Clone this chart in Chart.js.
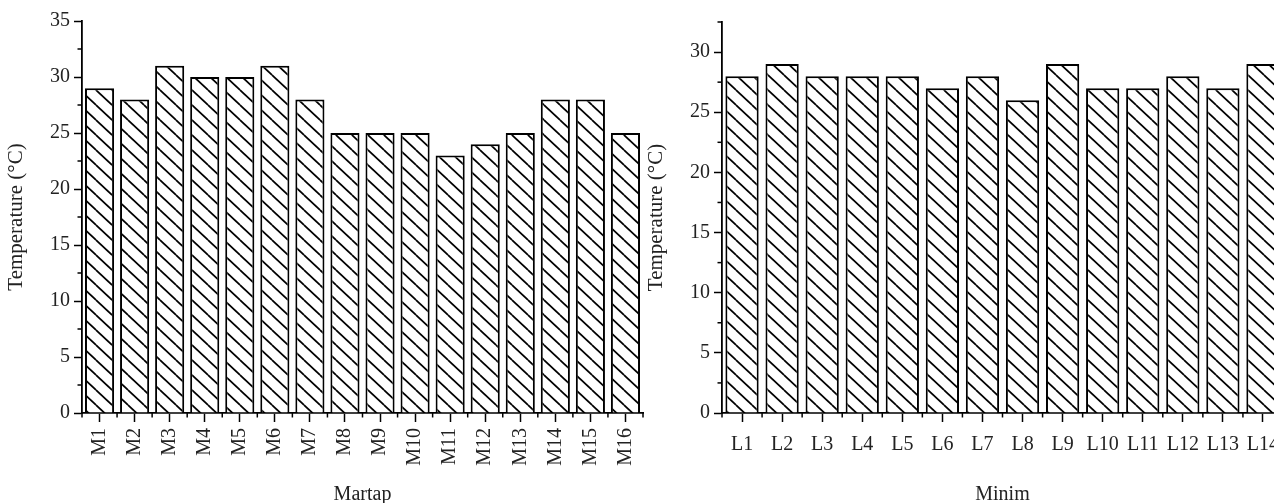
<!DOCTYPE html>
<html lang="en">
<head>
    <meta charset="UTF-8">
    <title>Temperature - Martap and Minim</title>
    <script src="https://cdn.jsdelivr.net/npm/chart.js"></script>
    <style>
        body { margin: 0; background: #fff; }
        #wrap { position: relative; width: 1274px; height: 503px; overflow: hidden; background: #fff; }
        .panel { position: absolute; top: 0; width: 650px; height: 503px; }
    </style>
</head>
<body>
    <div id="wrap">
        <div class="panel" style="left:0"><canvas id="martapChart" width="650" height="503"></canvas></div>
        <div class="panel" style="left:640px"><canvas id="minimChart" width="650" height="503"></canvas></div>
    </div>

    <script>
        // Data
        const martapLabels = ['M1', 'M2', 'M3', 'M4', 'M5', 'M6', 'M7', 'M8', 'M9', 'M10', 'M11', 'M12', 'M13', 'M14', 'M15', 'M16'];
        const martapTemps = [29, 28, 31, 30, 30, 31, 28, 25, 25, 25, 23, 24, 25, 28, 28, 25];
        const martapYTicks = [0, 5, 10, 15, 20, 25, 30, 35];

        const minimLabels = ['L1', 'L2', 'L3', 'L4', 'L5', 'L6', 'L7', 'L8', 'L9', 'L10', 'L11', 'L12', 'L13', 'L14'];
        const minimTemps = [28, 29, 28, 28, 28, 27, 28, 26, 29, 27, 27, 28, 27, 29];
        const minimYTicks = [0, 5, 10, 15, 20, 25, 30];

        const FONT = '"Liberation Serif", "Times New Roman", serif';

        // diagonal hatch fill for bars
        function hatchPattern(ctx) {
            const c = document.createElement('canvas');
            c.width = 16; c.height = 15;
            const g = c.getContext('2d');
            g.fillStyle = '#fff';
            g.fillRect(0, 0, 16, 15);
            g.strokeStyle = '#000';
            g.lineWidth = 1.7;
            for (const dx of [-16, 0, 16]) {
                for (const dy of [-15, 0, 15]) {
                    g.beginPath();
                    g.moveTo(dx, dy);
                    g.lineTo(dx + 16, dy + 15);
                    g.stroke();
                }
            }
            return ctx.createPattern(c, 'repeat');
        }

        // short ticks: half steps on y, category edges on x
        const minorTicks = {
            id: 'minorTicks',
            afterDraw(chart) {
                const ctx = chart.ctx;
                const x = chart.scales.x, y = chart.scales.y;
                ctx.save();
                ctx.strokeStyle = '#000';
                ctx.lineWidth = 1.5;
                for (let v = 2.5; v <= y.max + 0.01; v += 5) {
                    const py = y.getPixelForValue(v);
                    ctx.beginPath();
                    ctx.moveTo(y.right - 4.5, py);
                    ctx.lineTo(y.right, py);
                    ctx.stroke();
                }
                for (let i = 0; i <= chart.data.labels.length; i++) {
                    const px = x.getPixelForValue(i - 0.5);
                    ctx.beginPath();
                    ctx.moveTo(px, x.top);
                    ctx.lineTo(px, x.top + 4.5);
                    ctx.stroke();
                }
                ctx.restore();
            }
        };

        function makeChart(id, labels, values, yTicks, yMax, xTitle, rotated, topPad) {
            const ctx = document.getElementById(id).getContext('2d');
            return new Chart(ctx, {
                type: 'bar',
                data: {
                    labels: labels,
                    datasets: [{
                        data: values,
                        backgroundColor: hatchPattern(ctx),
                        borderColor: '#000',
                        borderWidth: 2,
                        categoryPercentage: 1,
                        barPercentage: 0.83
                    }]
                },
                options: {
                    responsive: false,
                    animation: false,
                    layout: { padding: { left: 0, top: topPad, right: 7, bottom: 0 } },
                    plugins: { legend: { display: false }, tooltip: { enabled: false } },
                    scales: {
                        x: {
                            offset: true,
                            grid: { offset: false, drawOnChartArea: false, drawTicks: true, tickLength: 9, tickColor: '#000', tickWidth: 1.5 },
                            border: { display: true, color: '#000', width: 1.8 },
                            ticks: {
                                autoSkip: false,
                                minRotation: rotated ? 90 : 0,
                                maxRotation: rotated ? 90 : 0,
                                padding: rotated ? 6 : 11,
                                color: '#222',
                                font: { family: FONT, size: 20 }
                            },
                            title: { display: true, text: xTitle, color: '#222', font: { family: FONT, size: 20, lineHeight: 0.8 }, padding: 0 },
                            afterFit(scale) {
                                scale.height = 90;
                                scale.paddingLeft = 0;
                                scale.paddingRight = 0;
                            }
                        },
                        y: {
                            min: 0,
                            max: yMax,
                            grid: { drawOnChartArea: false, drawTicks: true, tickLength: 8, tickColor: '#000', tickWidth: 1.5 },
                            border: { display: true, color: '#000', width: 1.8 },
                            ticks: { padding: 4, color: '#222', font: { family: FONT, size: 20 } },
                            afterBuildTicks(scale) {
                                scale.ticks = yTicks.map(v => ({ value: v }));
                            },
                            title: { display: true, text: 'Temperature (°C)', color: '#222', font: { family: FONT, size: 21 }, padding: { top: 4, bottom: 0 } },
                            afterFit(scale) {
                                scale.width = 82;
                                scale.paddingTop = 0;
                                scale.paddingBottom = 0;
                            }
                        }
                    }
                },
                plugins: [minorTicks]
            });
        }

        makeChart('martapChart', martapLabels, martapTemps, martapYTicks, 35, 'Martap', true, 21);
        makeChart('minimChart', minimLabels, minimTemps, minimYTicks, 32.5, 'Minim', false, 22);
    </script>
</body>
</html>
